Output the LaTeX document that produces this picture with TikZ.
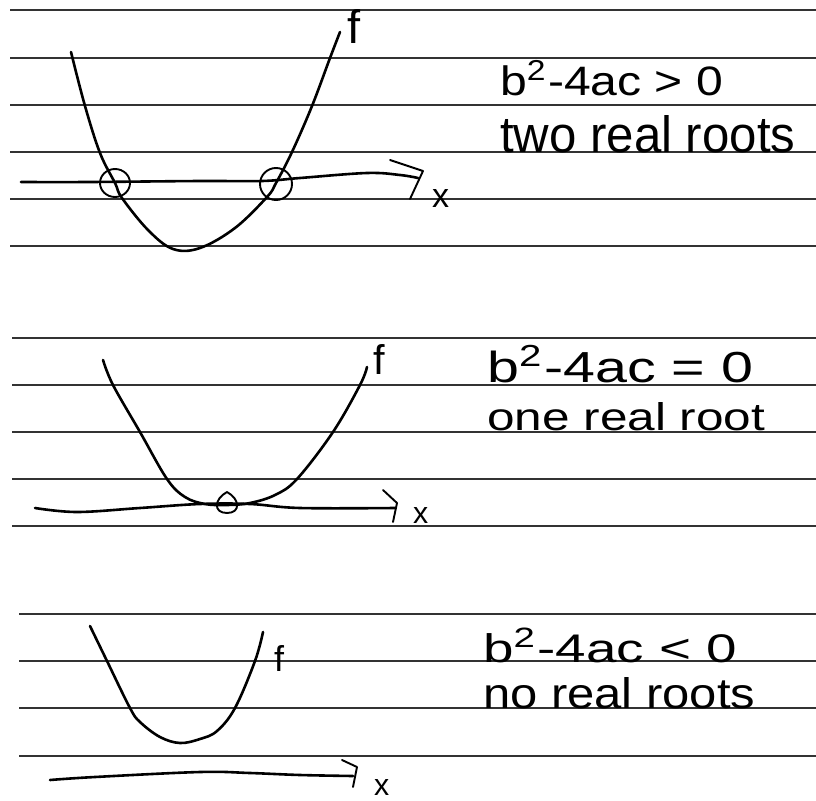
\documentclass[tikz,border=0pt]{standalone}
\usepackage{fontspec}
\setmainfont{Liberation Sans}
\begin{document}
\begin{tikzpicture}[x=1pt,y=-1pt,
  rule/.style={line width=1.1pt,black!80},
  pen/.style={line width=2.6pt,line cap=round,line join=round},
  thinpen/.style={line width=1.9pt,line cap=round,line join=round},
  lbl/.style={inner sep=0pt,anchor=base west},
  hand/.style={inner sep=0pt,anchor=base west}]
\fill[white] (0,0) rectangle (816,800);
\useasboundingbox (0,0) rectangle (816,800);
% ruled lines
\foreach \yy in {10,58,105,152,199,246} \draw[rule] (10,\yy) -- (816,\yy);
\foreach \yy in {338,385,432,479,526} \draw[rule] (12,\yy) -- (816,\yy);
\foreach \yy in {614,661,708,756} \draw[rule] (19,\yy) -- (816,\yy);

% ---------- top: two real roots ----------
\draw[pen] plot[smooth,tension=0.6] coordinates {(71,52) (85,106) (100,153) (115,183) (122,198) (148,230) (173,249) (200,248) (235,228) (267,197) (276,183) (292,152) (312,106) (330,58) (340,32)};
\draw[pen] plot[smooth,tension=0.6] coordinates {(21,182) (90,182) (200,181) (262,181) (300,178) (367,173) (400,175) (418,178)};
\draw[thinpen] (390,160) -- (423,171) -- (410,199);
\draw[thinpen] (115,183) ellipse [x radius=15,y radius=14];
\draw[thinpen] (276,184) ellipse [x radius=16,y radius=16];
\node[lbl] (f1) at (347,44) {\resizebox{!}{34pt}{f}};
\node[lbl] (x1) at (432,207) {\resizebox{!}{18pt}{x}};
\node[hand] (d1) at (500,95) {\resizebox{223pt}{35pt}{b\textsuperscript{2}-4ac {>} 0}};
\node[hand] (t1) at (500,152) {\resizebox{295pt}{37pt}{two real roots}};

% ---------- middle: one real root ----------
\draw[pen] plot[smooth,tension=0.6] coordinates {(103,360) (113,385) (140,432) (167,479) (185,497) (205,504) (227,505) (250,503) (275,495) (297,479) (333,432) (360,385) (367,367)};
\draw[pen] plot[smooth,tension=0.6] coordinates {(35,508) (77,512) (140,508) (200,504) (250,504) (300,508) (395,508)};
\draw[thinpen] (383,490) -- (397,503) -- (393,522);
\draw[thinpen] (227,492) .. controls (214,499) and (213,513) .. (227,513) .. controls (241,513) and (240,499) .. (227,492);
\node[lbl] (f2) at (373,374) {\resizebox{!}{30pt}{f}};
\node[lbl] (x2) at (413,523) {\resizebox{!}{16pt}{x}};
\node[hand] (d2) at (487,382) {\resizebox{266pt}{37pt}{b\textsuperscript{2}-4ac {=} 0}};
\node[hand] (t2) at (487,430) {\resizebox{278pt}{28pt}{one real root}};

% ---------- bottom: no real roots ----------
\draw[pen] plot[smooth,tension=0.6] coordinates {(90,626) (107,661) (130,708) (140,722) (160,737) (180,743) (200,739) (217,731) (235,708) (255,661) (263,632)};
\draw[pen] plot[smooth,tension=0.6] coordinates {(50,780) (95,777) (200,772) (250,773) (300,775) (353,776)};
\draw[thinpen] (342,760) -- (357,767) -- (353,787);
\node[lbl] (f3) at (274,671) {\resizebox{!}{26pt}{f}};
\node[lbl] (x3) at (374,795) {\resizebox{!}{16pt}{x}};
\node[hand] (d3) at (483,662) {\resizebox{254pt}{34pt}{b\textsuperscript{2}-4ac {<} 0}};
\node[hand] (t3) at (483,708) {\resizebox{272pt}{31pt}{no real roots}};
\end{tikzpicture}
\end{document}
